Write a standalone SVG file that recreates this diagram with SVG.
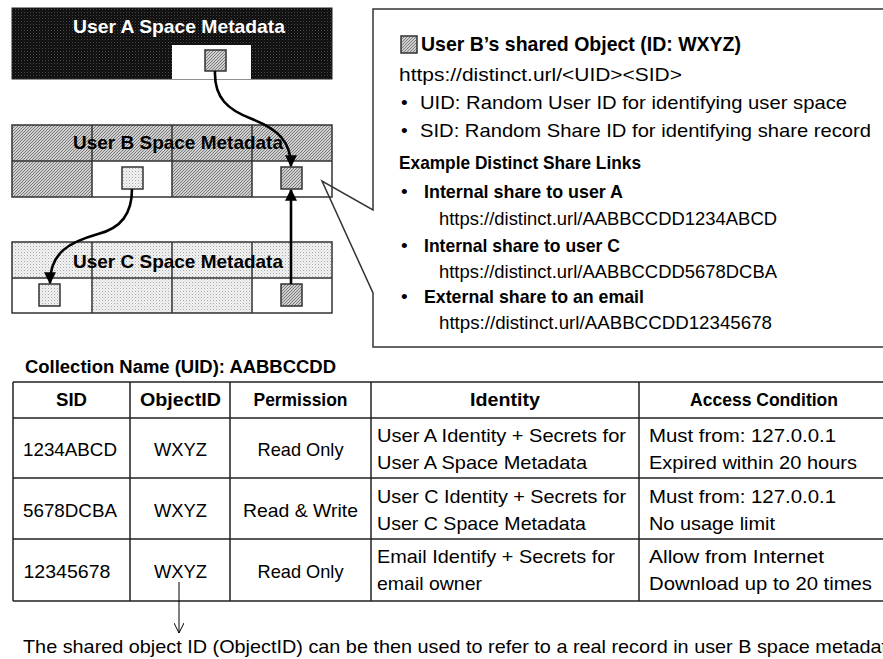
<svg xmlns="http://www.w3.org/2000/svg" width="883" height="659" viewBox="0 0 883 659">
  <style>
    .t { font-family: "Liberation Sans", Arial, sans-serif; font-size: 19px; fill: #000; }
    .b { font-weight: bold; }
    .c { text-anchor: middle; }
    .w { fill: #fff; }
    .grid { fill: none; stroke: #333; stroke-width: 1.5; }
    .sq { stroke: #333; stroke-width: 1.5; }
    .tbl { stroke: #222; stroke-width: 1.5; fill: none; }
    .conn { fill: none; stroke: #000; stroke-width: 2.6; }
    .thin { fill: none; stroke: #000; stroke-width: 1; }
  </style>
  <defs>
    <!-- near-black speckle used for user A space -->
    <pattern id="darkDots" width="3" height="3" patternUnits="userSpaceOnUse">
      <rect width="3" height="3" fill="#0e0e0e"/>
      <rect x="0" y="0" width="1" height="1" fill="#4a4a4a"/>
      <rect x="1.5" y="1.5" width="1" height="1" fill="#2a2a2a"/>
    </pattern>
    <!-- fine grey diagonal hatch used for user B space and the shared object -->
    <pattern id="hatch" width="3" height="3" patternUnits="userSpaceOnUse">
      <rect width="3" height="3" fill="#cfcfcf"/>
      <rect x="2" y="0" width="1" height="1" fill="#7c7c7c"/>
      <rect x="1" y="1" width="1" height="1" fill="#7c7c7c"/>
      <rect x="0" y="2" width="1" height="1" fill="#7c7c7c"/>
    </pattern>
    <!-- light dotted fill used for user C space -->
    <pattern id="dots" width="3" height="3" patternUnits="userSpaceOnUse">
      <rect width="3" height="3" fill="#f3f3f3"/>
      <rect x="0" y="0" width="1" height="1" fill="#a8a8a8"/>
      <rect x="1.5" y="1.5" width="1" height="1" fill="#c8c8c8"/>
    </pattern>
    <marker id="head" viewBox="0 0 10 10" refX="9" refY="5" markerWidth="12" markerHeight="12" markerUnits="userSpaceOnUse" orient="auto">
      <path d="M0,0 L10,5 L0,10 z" fill="#000"/>
    </marker>
    <marker id="vee" viewBox="0 0 10 10" refX="10" refY="5" markerWidth="10" markerHeight="10" markerUnits="userSpaceOnUse" orient="auto">
      <path d="M0,0 L10,5 L0,10" fill="none" stroke="#000" stroke-width="1"/>
    </marker>
  </defs>

  <rect width="883" height="659" fill="#fff"/>

  <!-- callout body (fill only; outline drawn later over the space boxes) -->
  <path d="M890,9 H373 V210 L322,181 L373,293 V347 H890 Z" fill="#fff"/>

  <!-- User A space -->
  <g id="userA">
    <rect x="12" y="8" width="320" height="71" fill="url(#darkDots)" stroke="#222" stroke-width="1"/>
    <rect x="172" y="45" width="79" height="34" fill="#fff"/>
    <rect class="sq" x="205" y="50" width="21" height="21" fill="url(#hatch)"/>
    <text class="t b w" x="73" y="33" textLength="212" lengthAdjust="spacingAndGlyphs">User A Space Metadata</text>
  </g>

  <!-- User B space -->
  <g id="userB">
    <rect x="12" y="125" width="320" height="36" fill="url(#hatch)"/>
    <rect x="12" y="161" width="80" height="36" fill="url(#hatch)"/>
    <rect x="92" y="161" width="80" height="36" fill="#fff"/>
    <rect x="172" y="161" width="80" height="36" fill="url(#hatch)"/>
    <rect x="252" y="161" width="80" height="36" fill="#fff"/>
    <path class="grid" d="M12,125 H332 V197 H12 Z M12,161 H332 M92,125 V197 M172,125 V197 M252,125 V197"/>
    <rect class="sq" x="122" y="167" width="21" height="22" fill="url(#dots)"/>
    <rect class="sq" x="281" y="167" width="21" height="22" fill="url(#hatch)"/>
    <text class="t b" x="73" y="149" textLength="210" lengthAdjust="spacingAndGlyphs">User B Space Metadata</text>
  </g>

  <!-- User C space -->
  <g id="userC">
    <rect x="12" y="242" width="320" height="36" fill="url(#dots)"/>
    <rect x="12" y="278" width="80" height="35" fill="#fff"/>
    <rect x="92" y="278" width="160" height="35" fill="url(#dots)"/>
    <rect x="252" y="278" width="80" height="35" fill="#fff"/>
    <path class="grid" d="M12,242 H332 V313 H12 Z M12,278 H332 M92,242 V313 M172,242 V313 M252,242 V313"/>
    <rect class="sq" x="39" y="284" width="21" height="22" fill="url(#dots)"/>
    <rect class="sq" x="281" y="284" width="21" height="22" fill="url(#hatch)"/>
    <text class="t b" x="73" y="268" textLength="210" lengthAdjust="spacingAndGlyphs">User C Space Metadata</text>
  </g>

  <!-- callout with share link description -->
  <g id="callout">
    <path d="M890,9 H373 V210 L322,181 L373,293 V347 H890" fill="none" stroke="#333" stroke-width="1.5"/>
    <rect class="sq" x="401" y="36" width="16" height="17" fill="url(#hatch)"/>
    <text class="t b" x="421" y="51" style="font-size:21px" textLength="320" lengthAdjust="spacingAndGlyphs">User B’s shared Object (ID: WXYZ)</text>
    <text class="t" x="399" y="81" textLength="283" lengthAdjust="spacingAndGlyphs">https://distinct.url/&lt;UID&gt;&lt;SID&gt;</text>
    <text class="t" x="401" y="109">•</text>
    <text class="t" x="420" y="109" textLength="427" lengthAdjust="spacingAndGlyphs">UID: Random User ID for identifying user space</text>
    <text class="t" x="401" y="137">•</text>
    <text class="t" x="420" y="137" textLength="451" lengthAdjust="spacingAndGlyphs">SID: Random Share ID for identifying share record</text>
    <text class="t b" x="399" y="169" textLength="242" lengthAdjust="spacingAndGlyphs">Example Distinct Share Links</text>
    <text class="t" x="401" y="198">•</text>
    <text class="t b" x="424" y="198" textLength="199" lengthAdjust="spacingAndGlyphs">Internal share to user A</text>
    <text class="t" x="439" y="225" textLength="338" lengthAdjust="spacingAndGlyphs">https://distinct.url/AABBCCDD1234ABCD</text>
    <text class="t" x="401" y="252">•</text>
    <text class="t b" x="424" y="252" textLength="196" lengthAdjust="spacingAndGlyphs">Internal share to user C</text>
    <text class="t" x="439" y="278" textLength="338" lengthAdjust="spacingAndGlyphs">https://distinct.url/AABBCCDD5678DCBA</text>
    <text class="t" x="401" y="303">•</text>
    <text class="t b" x="424" y="303" textLength="220" lengthAdjust="spacingAndGlyphs">External share to an email</text>
    <text class="t" x="439" y="329" textLength="333" lengthAdjust="spacingAndGlyphs">https://distinct.url/AABBCCDD12345678</text>
  </g>

  <!-- share record table -->
  <g id="shareTable">
    <text class="t b" x="25" y="373" style="font-size:18px" textLength="311" lengthAdjust="spacingAndGlyphs">Collection Name (UID): AABBCCDD</text>
    <path class="tbl" d="M13,382 H883 M13,418 H883 M13,478 H883 M13,539 H883 M13,601 H883 M13,382 V601 M130,382 V601 M230,382 V601 M371,382 V601 M639,382 V601"/>
    <!-- header -->
    <text class="t b c" x="71.5" y="406" textLength="31" lengthAdjust="spacingAndGlyphs">SID</text>
    <text class="t b c" x="180.5" y="406" textLength="81" lengthAdjust="spacingAndGlyphs">ObjectID</text>
    <text class="t b c" x="300.5" y="406" textLength="94" lengthAdjust="spacingAndGlyphs">Permission</text>
    <text class="t b c" x="505" y="406" textLength="70" lengthAdjust="spacingAndGlyphs">Identity</text>
    <text class="t b c" x="764" y="406" textLength="148" lengthAdjust="spacingAndGlyphs">Access Condition</text>
    <!-- row 1 -->
    <text class="t c" x="70" y="456" textLength="94" lengthAdjust="spacingAndGlyphs">1234ABCD</text>
    <text class="t c" x="180.5" y="456" textLength="53" lengthAdjust="spacingAndGlyphs">WXYZ</text>
    <text class="t c" x="300.5" y="456" textLength="86" lengthAdjust="spacingAndGlyphs">Read Only</text>
    <text class="t" x="377" y="442" textLength="249" lengthAdjust="spacingAndGlyphs">User A Identity + Secrets for</text>
    <text class="t" x="377" y="469" textLength="210" lengthAdjust="spacingAndGlyphs">User A Space Metadata</text>
    <text class="t" x="649" y="442" textLength="187" lengthAdjust="spacingAndGlyphs">Must from: 127.0.0.1</text>
    <text class="t" x="649" y="469" textLength="208" lengthAdjust="spacingAndGlyphs">Expired within 20 hours</text>
    <!-- row 2 -->
    <text class="t c" x="70" y="517" textLength="94" lengthAdjust="spacingAndGlyphs">5678DCBA</text>
    <text class="t c" x="180.5" y="517" textLength="53" lengthAdjust="spacingAndGlyphs">WXYZ</text>
    <text class="t c" x="300.5" y="517" textLength="115" lengthAdjust="spacingAndGlyphs">Read &amp; Write</text>
    <text class="t" x="377" y="503" textLength="249" lengthAdjust="spacingAndGlyphs">User C Identity + Secrets for</text>
    <text class="t" x="377" y="530" textLength="209" lengthAdjust="spacingAndGlyphs">User C Space Metadata</text>
    <text class="t" x="649" y="503" textLength="187" lengthAdjust="spacingAndGlyphs">Must from: 127.0.0.1</text>
    <text class="t" x="649" y="530" textLength="126" lengthAdjust="spacingAndGlyphs">No usage limit</text>
    <!-- row 3 -->
    <text class="t c" x="67" y="578" textLength="87" lengthAdjust="spacingAndGlyphs">12345678</text>
    <text class="t c" x="180.5" y="578" textLength="53" lengthAdjust="spacingAndGlyphs">WXYZ</text>
    <text class="t c" x="300.5" y="578" textLength="86" lengthAdjust="spacingAndGlyphs">Read Only</text>
    <text class="t" x="377" y="563" textLength="238" lengthAdjust="spacingAndGlyphs">Email Identify + Secrets for</text>
    <text class="t" x="377" y="590" textLength="105" lengthAdjust="spacingAndGlyphs">email owner</text>
    <text class="t" x="649" y="563" textLength="175" lengthAdjust="spacingAndGlyphs">Allow from Internet</text>
    <text class="t" x="649" y="590" textLength="223" lengthAdjust="spacingAndGlyphs">Download up to 20 times</text>
  </g>

  <g id="note">
    <text class="t" x="23" y="653" textLength="864" lengthAdjust="spacingAndGlyphs">The shared object ID (ObjectID) can be then used to refer to a real record in user B space metadat</text>
  </g>

  <!-- connectors -->
  <g id="connectors">
    <path class="conn" d="M215,71 C214,98 228,110 252,119 C278,129 291,142 291,166" marker-end="url(#head)"/>
    <path class="conn" d="M132,189 C132,214 121,228 98,234 C70,242 50,252 50,283" marker-end="url(#head)"/>
    <path class="conn" d="M291,284 L291,190" marker-end="url(#head)"/>
    <path class="thin" d="M179,582 L179,633" marker-end="url(#vee)"/>
  </g>
</svg>
